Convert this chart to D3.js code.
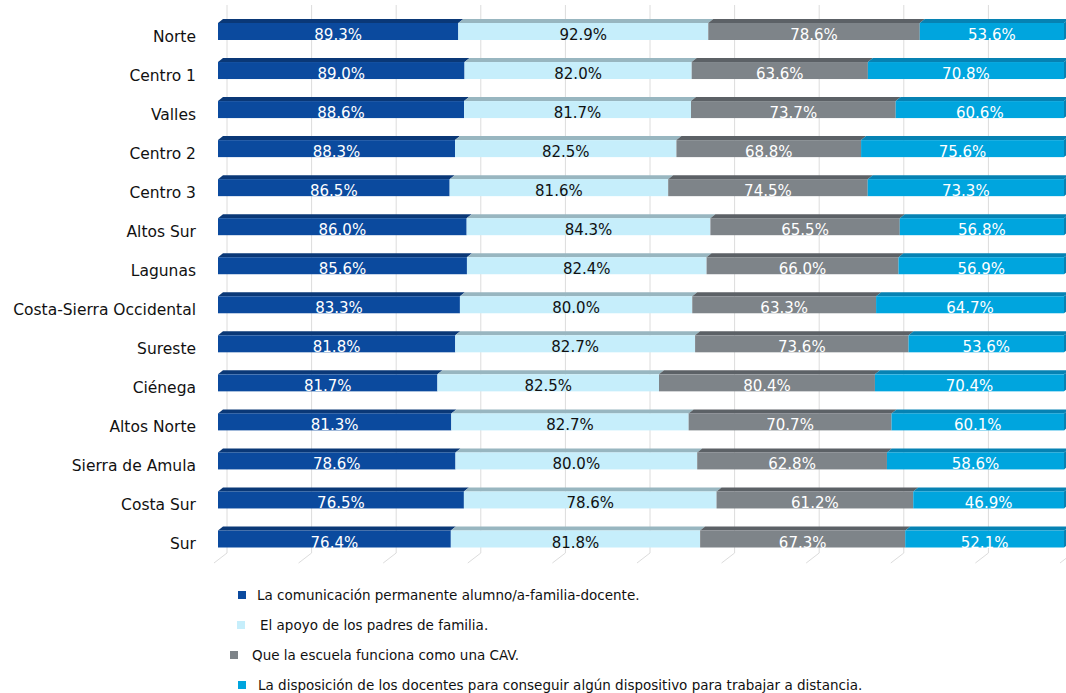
<!DOCTYPE html>
<html>
<head>
<meta charset="utf-8">
<script src="https://cdn.jsdelivr.net/npm/d3@7"></script>
<style>
  body { margin: 0; background: #fff; }
  svg { display: block; }
</style>
</head>
<body>
<div id="chart"></div>
<script>
// data
var regions = ["Norte", "Centro 1", "Valles", "Centro 2", "Centro 3", "Altos Sur", "Lagunas",
    "Costa-Sierra Occidental", "Sureste", "Ciénega", "Altos Norte", "Sierra de Amula", "Costa Sur", "Sur"];
var comunicacion = [89.3, 89.0, 88.6, 88.3, 86.5, 86.0, 85.6, 83.3, 81.8, 81.7, 81.3, 78.6, 76.5, 76.4];
var apoyo = [92.9, 82.0, 81.7, 82.5, 81.6, 84.3, 82.4, 80.0, 82.7, 82.5, 82.7, 80.0, 78.6, 81.8];
var cav = [78.6, 63.6, 73.7, 68.8, 74.5, 65.5, 66.0, 63.3, 73.6, 80.4, 70.7, 62.8, 61.2, 67.3];
var disposicion = [53.6, 70.8, 60.6, 75.6, 73.3, 56.8, 56.9, 64.7, 53.6, 70.4, 60.1, 58.6, 46.9, 52.1];
var seriesKeys = ["com", "apo", "cav", "dis"];
var legendLabels = [
    "La comunicación permanente alumno/a-familia-docente.",
    "El apoyo de los padres de familia.",
    "Que la escuela funciona como una CAV.",
    "La disposición de los docentes para conseguir algún dispositivo para trabajar a distancia."
];

var colors = { com: "#0b4a9e", apo: "#c6eefb", cav: "#7e8489", dis: "#00a5de" };
var topColors = { com: "#0a3877", apo: "#98b6c0", cav: "#5c6166", dis: "#0682b3" };
var textColors = { com: "#fff", apo: "#111", cav: "#fff", dis: "#fff" };

var width = 1066, height = 693;
var rows = regions.map(function(r, i) {
    return { region: r, com: comunicacion[i], apo: apoyo[i], cav: cav[i], dis: disposicion[i] };
});

var stack = d3.stack().keys(seriesKeys).offset(d3.stackOffsetExpand);
var series = stack(rows);

// set the ranges
var x = d3.scaleLinear().domain([0, 1]).range([218, 1064]);
var y = d3.scalePoint().domain(regions).range([31.5, 539]);
var barH = 17, depthX = 5, depthY = 4;
var wallX = 9, wallY = 10;
var font = "'DejaVu Sans', sans-serif";

var svg = d3.select("#chart").append("svg")
    .attr("width", width)
    .attr("height", height);

// back wall gridlines
var ticks = d3.range(0, 1.01, 0.1);
var floorY = 553;
svg.append("g").selectAll("line")
    .data(ticks)
    .enter().append("line")
    .attr("x1", function(d) { return x(d) + wallX; })
    .attr("x2", function(d) { return x(d) + wallX; })
    .attr("y1", 5)
    .attr("y2", floorY)
    .attr("stroke", "#dcdcdc")
    .attr("stroke-width", 1);
// floor lines
svg.append("g").selectAll("line")
    .data(ticks)
    .enter().append("line")
    .attr("x1", function(d) { return x(d) + wallX; })
    .attr("x2", function(d) { return x(d) - 4; })
    .attr("y1", floorY)
    .attr("y2", floorY + wallY)
    .attr("stroke", "#dcdcdc")
    .attr("stroke-width", 1);

// bars
var layer = svg.selectAll(".layer")
    .data(series)
    .enter().append("g")
    .attr("class", "layer");

// top faces
layer.selectAll(".top")
    .data(function(s) { return s.map(function(d) { return { key: s.key, d: d }; }); })
    .enter().append("path")
    .attr("fill", function(o) { return topColors[o.key]; })
    .attr("d", function(o) {
        var x0 = x(o.d[0]), x1 = x(o.d[1]);
        var yt = y(o.d.data.region) - barH / 2;
        return "M" + x0 + "," + yt + "L" + (x0 + depthX) + "," + (yt - depthY) +
            "L" + (x1 + depthX) + "," + (yt - depthY) + "L" + x1 + "," + yt + "Z";
    });

// front faces
layer.selectAll(".front")
    .data(function(s) { return s.map(function(d) { return { key: s.key, d: d }; }); })
    .enter().append("rect")
    .attr("fill", function(o) { return colors[o.key]; })
    .attr("x", function(o) { return x(o.d[0]); })
    .attr("width", function(o) { return x(o.d[1]) - x(o.d[0]); })
    .attr("y", function(o) { return y(o.d.data.region) - barH / 2; })
    .attr("height", barH);

// right side of last segment
svg.append("g").selectAll("path")
    .data(series[series.length - 1])
    .enter().append("path")
    .attr("fill", topColors.dis)
    .attr("d", function(d) {
        var x1 = x(d[1]);
        var yt = y(d.data.region) - barH / 2;
        return "M" + x1 + "," + yt + "L" + (x1 + depthX) + "," + (yt - depthY) +
            "L" + (x1 + depthX) + "," + (yt + barH - depthY) + "L" + x1 + "," + (yt + barH) + "Z";
    });

// value labels
layer.selectAll(".val")
    .data(function(s) { return s.map(function(d) { return { key: s.key, d: d }; }); })
    .enter().append("text")
    .attr("x", function(o) { return (x(o.d[0]) + x(o.d[1])) / 2; })
    .attr("y", function(o) { return y(o.d.data.region) + barH / 2; })
    .attr("text-anchor", "middle")
    .attr("fill", function(o) { return textColors[o.key]; })
    .style("font-family", font)
    .style("font-size", "15px")
    .text(function(o) { return o.d.data[o.key].toFixed(1) + "%"; });

// category labels
svg.append("g").selectAll("text")
    .data(regions)
    .enter().append("text")
    .attr("x", 196)
    .attr("y", function(d) { return y(d) + 10; })
    .attr("text-anchor", "end")
    .attr("fill", "#111")
    .style("font-family", font)
    .style("font-size", "15.5px")
    .text(function(d) { return d; });

// legend (the source nudges the third entry a bit to the left)
var legendY = [595, 625, 655, 685];
var legendBoxX = [238, 237, 230, 238];
var legendTextX = [257, 260, 252, 258];
var legend = svg.append("g").selectAll("g")
    .data(seriesKeys)
    .enter().append("g")
    .attr("transform", function(d, i) { return "translate(0," + legendY[i] + ")"; });
legend.append("rect")
    .attr("x", function(d, i) { return legendBoxX[i]; })
    .attr("y", -4)
    .attr("width", 8).attr("height", 8)
    .attr("fill", function(d) { return colors[d]; });
legend.append("text")
    .attr("x", function(d, i) { return legendTextX[i]; })
    .attr("y", 4.5)
    .attr("fill", "#111")
    .style("font-family", font)
    .style("font-size", "13.5px")
    .text(function(d, i) { return legendLabels[i]; });
</script>
</body>
</html>
